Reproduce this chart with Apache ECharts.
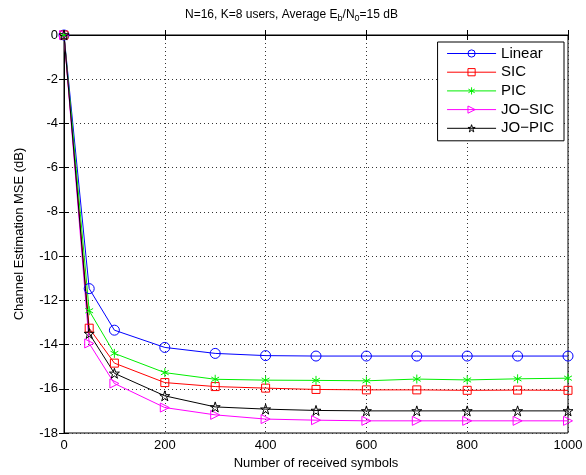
<!DOCTYPE html>
<html><head><meta charset="utf-8">
<script src="https://cdn.jsdelivr.net/npm/echarts@6/dist/echarts.min.js"></script>
<style>html,body{margin:0;padding:0;background:#fff}#c{width:586px;height:475px}</style>
</head><body><div id="c"></div>
<script>
const xValues = [0, 50, 100, 200, 300, 400, 500, 600, 700, 800, 900, 1000];
const linear = [0, -11.47, -13.35, -14.13, -14.4, -14.5, -14.52, -14.52, -14.52, -14.52, -14.52, -14.52];
const sic    = [0, -13.26, -14.84, -15.72, -15.9, -15.97, -16.03, -16.05, -16.05, -16.07, -16.06, -16.07];
const pic    = [0, -12.47, -14.4, -15.27, -15.57, -15.61, -15.62, -15.64, -15.56, -15.6, -15.55, -15.52];
const joSic  = [0, -13.95, -15.76, -16.85, -17.18, -17.37, -17.42, -17.45, -17.45, -17.45, -17.45, -17.45];
const joPic  = [0, -13.5, -15.3, -16.32, -16.82, -16.92, -16.98, -17.0, -17.0, -17.0, -17.0, -17.0];
const seriesNames = ['Linear', 'SIC', 'PIC', 'JO\u2212SIC', 'JO\u2212PIC'];

const FONT = 'Liberation Sans';
const STAR = 'path://M0,-1L0.2245,-0.309L0.951,-0.309L0.363,0.118L0.588,0.809L0,0.382L-0.588,0.809L-0.363,0.118L-0.951,-0.309L-0.2245,-0.309Z';
const ASTER = 'path://M0,-1L0,1M-0.87,-0.5L0.87,0.5M-0.87,0.5L0.87,-0.5M-1,0L-1,0M1,0L1,0';
const TRI = 'path://M0,0L1,0.5L0,1Z';
const HOLLOW = 'rgba(255,255,255,0)';

function mk(name, data, color, symbol, size) {
  return {
    name, type: 'line', color: color,
    data: xValues.map((x, i) => [x, data[i]]),
    symbol, symbolSize: size, showAllSymbol: true,
    lineStyle: { color: color, width: 1 },
    itemStyle: { color: HOLLOW, borderColor: color, borderWidth: 1 },
    emphasis: { disabled: true },
    animation: false
  };
}

const chart = echarts.init(document.getElementById('c'));
chart.setOption({
  backgroundColor: '#fff',
  animation: false,
  title: {
    text: 'N=16, K=8 users, Average E{sub|b}/N{sub|0}=15 dB',
    left: 180, top: 2,
    textStyle: {
      fontFamily: FONT, fontSize: 12, fontWeight: 'normal', color: '#000',
      rich: { sub: { fontFamily: FONT, fontSize: 9, verticalAlign: 'bottom', padding: [7, 0, 0, 0] } }
    }
  },
  grid: { left: 64, right: 18, top: 35, bottom: 42, show: true, borderColor: '#000', borderWidth: 1 },
  legend: {
    orient: 'vertical', right: 22, top: 42,
    data: seriesNames,
    itemWidth: 49, itemHeight: 9, itemGap: 3.7,
    borderColor: '#000', borderWidth: 1, padding: [4, 10, 5, 9],
    backgroundColor: '#fff',
    lineStyle: { width: 1 },
    itemStyle: { color: HOLLOW, borderWidth: 1 },
    textStyle: { fontFamily: FONT, fontSize: 15, color: '#000', padding: [0, 0, 0, 0] }
  },
  xAxis: [{
    type: 'value', min: 0, max: 1000, interval: 200,
    name: 'Number of received symbols', nameLocation: 'middle', nameGap: 23,
    nameTextStyle: { fontFamily: FONT, fontSize: 13, color: '#000' },
    axisLine: { show: true, lineStyle: { color: '#000' } },
    axisTick: { show: true, inside: true, length: 5, lineStyle: { color: '#000' } },
    axisLabel: { fontFamily: FONT, fontSize: 13, color: '#000', margin: 6, formatter: v => String(v) },
    splitLine: { show: true, lineStyle: { color: '#333', type: [1, 3], width: 1 } }
  }, {
    type: 'value', min: 0, max: 1000, interval: 200, position: 'top',
    axisLine: { show: false },
    axisTick: { show: true, inside: true, length: 5, lineStyle: { color: '#000' } },
    axisLabel: { show: false }, splitLine: { show: false }
  }],
  yAxis: [{
    type: 'value', min: -18, max: 0, interval: 2,
    name: 'Channel Estimation MSE (dB)', nameLocation: 'middle', nameGap: 38,
    nameTextStyle: { fontFamily: FONT, fontSize: 13, color: '#000' },
    axisLine: { show: true, lineStyle: { color: '#000' } },
    axisTick: { show: true, inside: true, length: 5, lineStyle: { color: '#000' } },
    axisLabel: { fontFamily: FONT, fontSize: 13, color: '#000', margin: 6 },
    splitLine: { show: true, lineStyle: { color: '#333', type: [1, 3], width: 1 } }
  }, {
    type: 'value', min: -18, max: 0, interval: 2, position: 'right',
    axisLine: { show: false },
    axisTick: { show: true, inside: true, length: 5, lineStyle: { color: '#000' } },
    axisLabel: { show: false }, splitLine: { show: false }
  }],
  series: [
    mk(seriesNames[0], linear, '#0000ff', 'circle', 10),
    mk(seriesNames[1], sic, '#ff0000', 'rect', 8),
    mk(seriesNames[2], pic, '#00ee00', ASTER, 9),
    mk(seriesNames[3], joSic, '#ff00ff', TRI, 9),
    mk(seriesNames[4], joPic, '#000000', STAR, 10)
  ]
});
</script></body></html>
